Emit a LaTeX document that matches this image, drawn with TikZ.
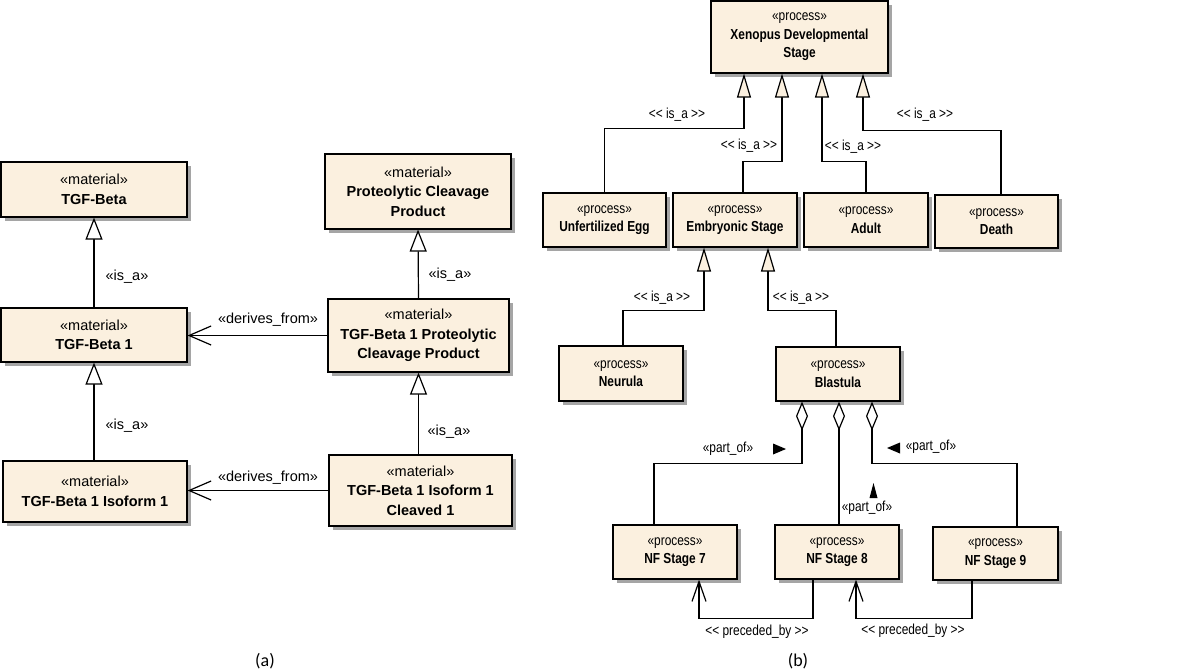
\documentclass[tikz,border=0pt]{standalone}
\usepackage{fontspec}
\setmainfont{Liberation Sans}
\newfontfamily\narrowfont[FakeStretch=0.82]{Liberation Sans}
\newfontfamily\capfont{Carlito}
\usetikzlibrary{arrows.meta,shadows,positioning}
\definecolor{cream}{RGB}{251,240,223}
\definecolor{shadowgray}{RGB}{165,165,165}
\tikzset{
  umlbox/.style={draw=black, fill=cream, line width=1.2pt, align=center, inner sep=0pt,
    drop shadow={shadow xshift=4pt, shadow yshift=-4pt, fill=shadowgray, opacity=1}},
  leftbox/.style={umlbox, font=\fontsize{14.5}{19.5}\selectfont},
  rightbox/.style={umlbox, font=\narrowfont\fontsize{14.5}{18.5}\selectfont},
  conn/.style={line width=1.2pt, draw=black},
  isaL/.style={conn, -{Triangle[length=22pt, width=17pt, fill=white, line width=1.2pt]}},
  isaR/.style={conn, -{Triangle[length=24pt, width=14pt, fill=cream, line width=1.2pt]}},
  derive/.style={conn, -{Straight Barb[length=22pt, width=19pt, line width=1.2pt]}},
  precede/.style={conn, -{Straight Barb[length=20pt, width=14pt, line width=1.2pt]}},
  partof/.style={conn, -{Diamond[length=29pt, width=12pt, fill=white, line width=1.2pt]}},
  lblL/.style={font=\fontsize{14.5}{16}\selectfont, inner sep=0pt},
  lblR/.style={font=\narrowfont\fontsize{14.5}{16}\selectfont, inner sep=0pt},
  caption/.style={font=\capfont\fontsize{18}{20}\selectfont, inner sep=0pt}
}
\begin{document}
\begin{tikzpicture}[x=1pt,y=-1pt]
\useasboundingbox (0,0) rectangle (1200,670);
% ---------------- (a) ----------------
\node[leftbox, minimum width=186pt, minimum height=55pt] (tgfb) at (94,189.5) {«material»\\\textbf{TGF-Beta}};
\node[leftbox, minimum width=186pt, minimum height=75pt] (pcp) at (418,191.5) {«material»\\\textbf{Proteolytic Cleavage}\\\textbf{Product}};
\node[leftbox, minimum width=186pt, minimum height=54pt] (tgfb1) at (94,335) {«material»\\\textbf{TGF-Beta 1}};
\node[leftbox, minimum width=181pt, minimum height=73pt] (tpcp) at (418.5,335.5) {«material»\\\textbf{TGF-Beta 1 Proteolytic}\\\textbf{Cleavage Product}};
\node[leftbox, minimum width=184pt, minimum height=61pt] (iso) at (95,491.5) {«material»\\\textbf{TGF-Beta 1 Isoform 1}};
\node[leftbox, minimum width=183pt, minimum height=71pt] (cleav) at (420.5,490.5) {«material»\\\textbf{TGF-Beta 1 Isoform 1}\\\textbf{Cleaved 1}};

\draw[isaL] (tgfb1.north) -- (tgfb.south);
\draw[isaL] (iso.north -| tgfb1.south) -- (tgfb1.south);
\draw[isaL] (tpcp.north) -- (pcp.south);
\draw[isaL] (cleav.north -| tpcp.south) -- (tpcp.south);
\draw[derive] (tpcp.west) -- (tpcp.west -| tgfb1.east);
\draw[derive] (cleav.west) -- (cleav.west -| iso.east);

\node[lblL] (l1) at (127,277) {«is\_a»};
\node[lblL] (l2) at (127,426) {«is\_a»};
\node[lblL] (l3) at (450,275) {«is\_a»};
\node[lblL] (l4) at (449,432) {«is\_a»};
\node[lblL] (l5) at (268,320) {«derives\_from»};
\node[lblL] (l6) at (268,478) {«derives\_from»};
\node[caption] (capa) at (265,661) {(a)};

% ---------------- (b) ----------------
\node[rightbox, minimum width=177pt, minimum height=72pt] (xen) at (799.5,37) {«process»\\\textbf{Xenopus Developmental}\\\textbf{Stage}};
\node[rightbox, minimum width=123pt, minimum height=54pt] (ue) at (604.5,220) {«process»\\\textbf{Unfertilized Egg}};
\node[rightbox, minimum width=124pt, minimum height=54pt] (emb) at (735,220) {«process»\\\textbf{Embryonic Stage}};
\node[rightbox, minimum width=124pt, minimum height=54pt] (adult) at (866,220) {«process»\\\textbf{Adult}};
\node[rightbox, minimum width=123pt, minimum height=53pt] (death) at (996.5,221.5) {«process»\\\textbf{Death}};
\node[rightbox, minimum width=124pt, minimum height=55pt] (neu) at (621,373.5) {«process»\\\textbf{Neurula}};
\node[rightbox, minimum width=124pt, minimum height=54pt] (bla) at (838,374) {«process»\\\textbf{Blastula}};
\node[rightbox, minimum width=124pt, minimum height=54pt] (nf7) at (675,552) {«process»\\\textbf{NF Stage 7}};
\node[rightbox, minimum width=124pt, minimum height=54pt] (nf8) at (837,552) {«process»\\\textbf{NF Stage 8}};
\node[rightbox, minimum width=125pt, minimum height=53pt] (nf9) at (995.5,553.5) {«process»\\\textbf{NF Stage 9}};

\draw[isaR] (ue.north) -- ++(0,-64) -| ([xshift=-55.5pt]xen.south);
\draw[isaR] ([xshift=8pt]emb.north) -- ++(0,-31) -| ([xshift=-17.5pt]xen.south);
\draw[isaR] (adult.north) -- ++(0,-31) -| ([xshift=22.5pt]xen.south);
\draw[isaR] ([xshift=4.5pt]death.north) -- ++(0,-64) -| ([xshift=63.5pt]xen.south);
\draw[isaR] ([xshift=2pt]neu.north) -- ++(0,-35) -| ([xshift=-31pt]emb.south);
\draw[isaR] ([xshift=-2pt]bla.north) -- ++(0,-36) -| ([xshift=33pt]emb.south);

\draw[partof] ([xshift=-21pt]nf7.north) -- ++(0,-61) -| ([xshift=-36pt]bla.south);
\draw[partof] ([xshift=2pt]nf8.north) -- ([xshift=1pt]bla.south);
\draw[partof] ([xshift=21.5pt]nf9.north) -- ++(0,-63) -| ([xshift=34pt]bla.south);

\draw[precede] ([xshift=-24pt]nf8.south) -- ++(0,39) -| ([xshift=24pt]nf7.south);
\draw[precede] ([xshift=-23.5pt]nf9.south) -- ++(0,38) -| ([xshift=19pt]nf8.south);

\node[lblR] (r1) at (677,115) {<{}< is\_a >{}>};
\node[lblR] (r2) at (749,146) {<{}< is\_a >{}>};
\node[lblR] (r3) at (853,147) {<{}< is\_a >{}>};
\node[lblR] (r4) at (925,115) {<{}< is\_a >{}>};
\node[lblR] (r5) at (662,298) {<{}< is\_a >{}>};
\node[lblR] (r6) at (801,298) {<{}< is\_a >{}>};
\node[lblR] (p1) at (728,449) {«part\_of»};
\node[lblR] (p2) at (867,508) {«part\_of»};
\node[lblR] (p3) at (931,447) {«part\_of»};
\node[lblR] (q1) at (757,632) {<{}< preceded\_by >{}>};
\node[lblR] (q2) at (913,631) {<{}< preceded\_by >{}>};
\node[caption] (capb) at (798,661) {(b)};

% direction markers
\fill (773,443.5) -- (786,449) -- (773,454.5) -- cycle;
\fill (900,442.5) -- (887,448) -- (900,453.5) -- cycle;
\fill (869.5,498) -- (873.5,483) -- (877.5,498) -- cycle;
\end{tikzpicture}
\end{document}
